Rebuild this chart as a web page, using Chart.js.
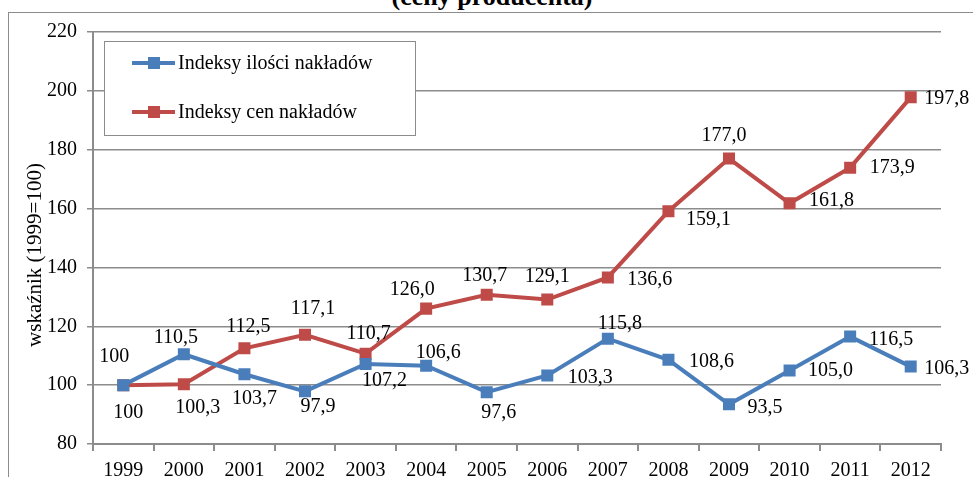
<!DOCTYPE html>
<html>
<head>
<meta charset="utf-8">
<script src="https://cdn.jsdelivr.net/npm/chart.js@4/dist/chart.umd.min.js"></script>
<style>
  html, body { margin: 0; padding: 0; background: #fff; overflow: hidden; }
  #wrap { position: relative; width: 973px; height: 477px; }
  #frame { position: absolute; left: 8px; top: 12px; width: 980px; height: 480px; border: 1px solid #8c8c8c; box-sizing: border-box; }
  #title { position: absolute; left: 0; top: -16px; width: 984px; text-align: center;
           font: bold 26px "Liberation Serif", serif; line-height: 26px; color: #000; }
  canvas { position: absolute; left: 0; top: 0; }
</style>
</head>
<body>
<div id="wrap">
  <div id="frame"></div>
  <div id="title">(ceny producenta)</div>
  <canvas id="chart" width="973" height="477"></canvas>
</div>
<script>
// Data
const years = ['1999', '2000', '2001', '2002', '2003', '2004', '2005', '2006', '2007', '2008', '2009', '2010', '2011', '2012'];
const iloscValues = [100, 110.5, 103.7, 97.9, 107.2, 106.6, 97.6, 103.3, 115.8, 108.6, 93.5, 105.0, 116.5, 106.3];
const cenValues = [100, 100.3, 112.5, 117.1, 110.7, 126.0, 130.7, 129.1, 136.6, 159.1, 177.0, 161.8, 173.9, 197.8];
const yTicks = [80, 100, 120, 140, 160, 180, 200, 220];

// label offsets from each point (px), just styling
const iloscLabelOffsets = [[-9, -28], [-8, -16], [10, 24], [13, 15], [19, 17], [12, -13], [12, 21],
  [43, 2], [12, -15], [43, 2], [36, 3], [41, 0], [41, 3], [36, 2]];
const cenLabelOffsets = [[5, 28], [14, 23], [4, -22], [8, -26], [3, -20], [-14, -19], [-2, -19],
  [0, -23], [42, 2], [40, 9], [-5, -23], [42, -3], [42, 0], [36, 1]];

const BLUE = '#4A7EBB';
const RED = '#BE4B48';
const GRID = '#8c8c8c';
const FONT = '"Liberation Serif", "Times New Roman", serif';

function fmt(v, i) {
  if (i === 0) return String(v);
  return v.toFixed(1).replace('.', ',');
}

// value labels next to points
const pointLabels = {
  id: 'pointLabels',
  afterDatasetsDraw(chart) {
    const ctx = chart.ctx;
    ctx.save();
    ctx.font = '20px ' + FONT;
    ctx.fillStyle = '#000';
    ctx.textAlign = 'center';
    ctx.textBaseline = 'middle';
    chart.data.datasets.forEach((ds, d) => {
      const meta = chart.getDatasetMeta(d);
      meta.data.forEach((pt, i) => {
        const off = ds.labelOffsets[i];
        ctx.fillText(fmt(ds.data[i], i), pt.x + off[0], pt.y + off[1]);
      });
    });
    ctx.restore();
  }
};

// legend box inside the plot
const boxLegend = {
  id: 'boxLegend',
  afterDraw(chart) {
    const ctx = chart.ctx;
    ctx.save();
    ctx.fillStyle = '#fff';
    ctx.fillRect(105, 42, 310, 93);
    ctx.strokeStyle = GRID;
    ctx.lineWidth = 1;
    ctx.strokeRect(104.5, 41.5, 311, 94);
    const rows = [63, 112];
    chart.data.datasets.forEach((ds, d) => {
      const y = rows[d];
      ctx.strokeStyle = ds.borderColor;
      ctx.lineWidth = 4;
      ctx.beginPath();
      ctx.moveTo(132, y);
      ctx.lineTo(175, y);
      ctx.stroke();
      ctx.fillStyle = ds.borderColor;
      ctx.fillRect(148, y - 6, 12, 12);
      ctx.fillStyle = '#000';
      ctx.font = '20px ' + FONT;
      ctx.textAlign = 'left';
      ctx.textBaseline = 'middle';
      ctx.fillText(ds.label, 178, y + 1);
    });
    ctx.restore();
  }
};

// y axis title
const yTitle = {
  id: 'yTitle',
  afterDraw(chart) {
    const ctx = chart.ctx;
    ctx.save();
    ctx.translate(35, 255);
    ctx.rotate(-Math.PI / 2);
    ctx.font = '21px ' + FONT;
    ctx.fillStyle = '#000';
    ctx.textAlign = 'center';
    ctx.textBaseline = 'middle';
    ctx.fillText('wskaźnik (1999=100)', 0, 0);
    ctx.restore();
  }
};

const ctx = document.getElementById('chart').getContext('2d');
const chart = new Chart(ctx, {
  type: 'line',
  data: {
    labels: years,
    datasets: [{
      label: 'Indeksy ilości nakładów',
      data: iloscValues,
      labelOffsets: iloscLabelOffsets,
      borderColor: BLUE,
      backgroundColor: BLUE,
      borderWidth: 4,
      pointStyle: 'rect',
      pointRadius: 8.5,
      pointBorderWidth: 0,
      tension: 0
    }, {
      label: 'Indeksy cen nakładów',
      data: cenValues,
      labelOffsets: cenLabelOffsets,
      borderColor: RED,
      backgroundColor: RED,
      borderWidth: 4,
      pointStyle: 'rect',
      pointRadius: 8.5,
      pointBorderWidth: 0,
      tension: 0
    }]
  },
  options: {
    responsive: false,
    animation: false,
    layout: { padding: { top: 32, right: 32, left: 0, bottom: 0 } },
    plugins: {
      legend: { display: false },
      tooltip: { enabled: false }
    },
    scales: {
      x: {
        offset: true,
        grid: { offset: true, drawOnChartArea: false, tickLength: 7, color: GRID, lineWidth: 2 },
        border: { color: GRID, width: 2 },
        ticks: { color: '#000', font: { family: FONT, size: 20 }, padding: 8, maxRotation: 0 },
        afterFit(s) { s.height = 33; }
      },
      y: {
        min: yTicks[0],
        max: yTicks[yTicks.length - 1],
        afterBuildTicks(s) { s.ticks = yTicks.map(v => ({ value: v })); },
        grid: { color: GRID, lineWidth: 1.5, tickLength: 6 },
        border: { color: GRID, width: 2 },
        ticks: { color: '#000', font: { family: FONT, size: 20 }, padding: 10 },
        afterFit(s) { s.width = 93; }
      }
    }
  },
  plugins: [pointLabels, boxLegend, yTitle]
});
</script>
</body>
</html>
